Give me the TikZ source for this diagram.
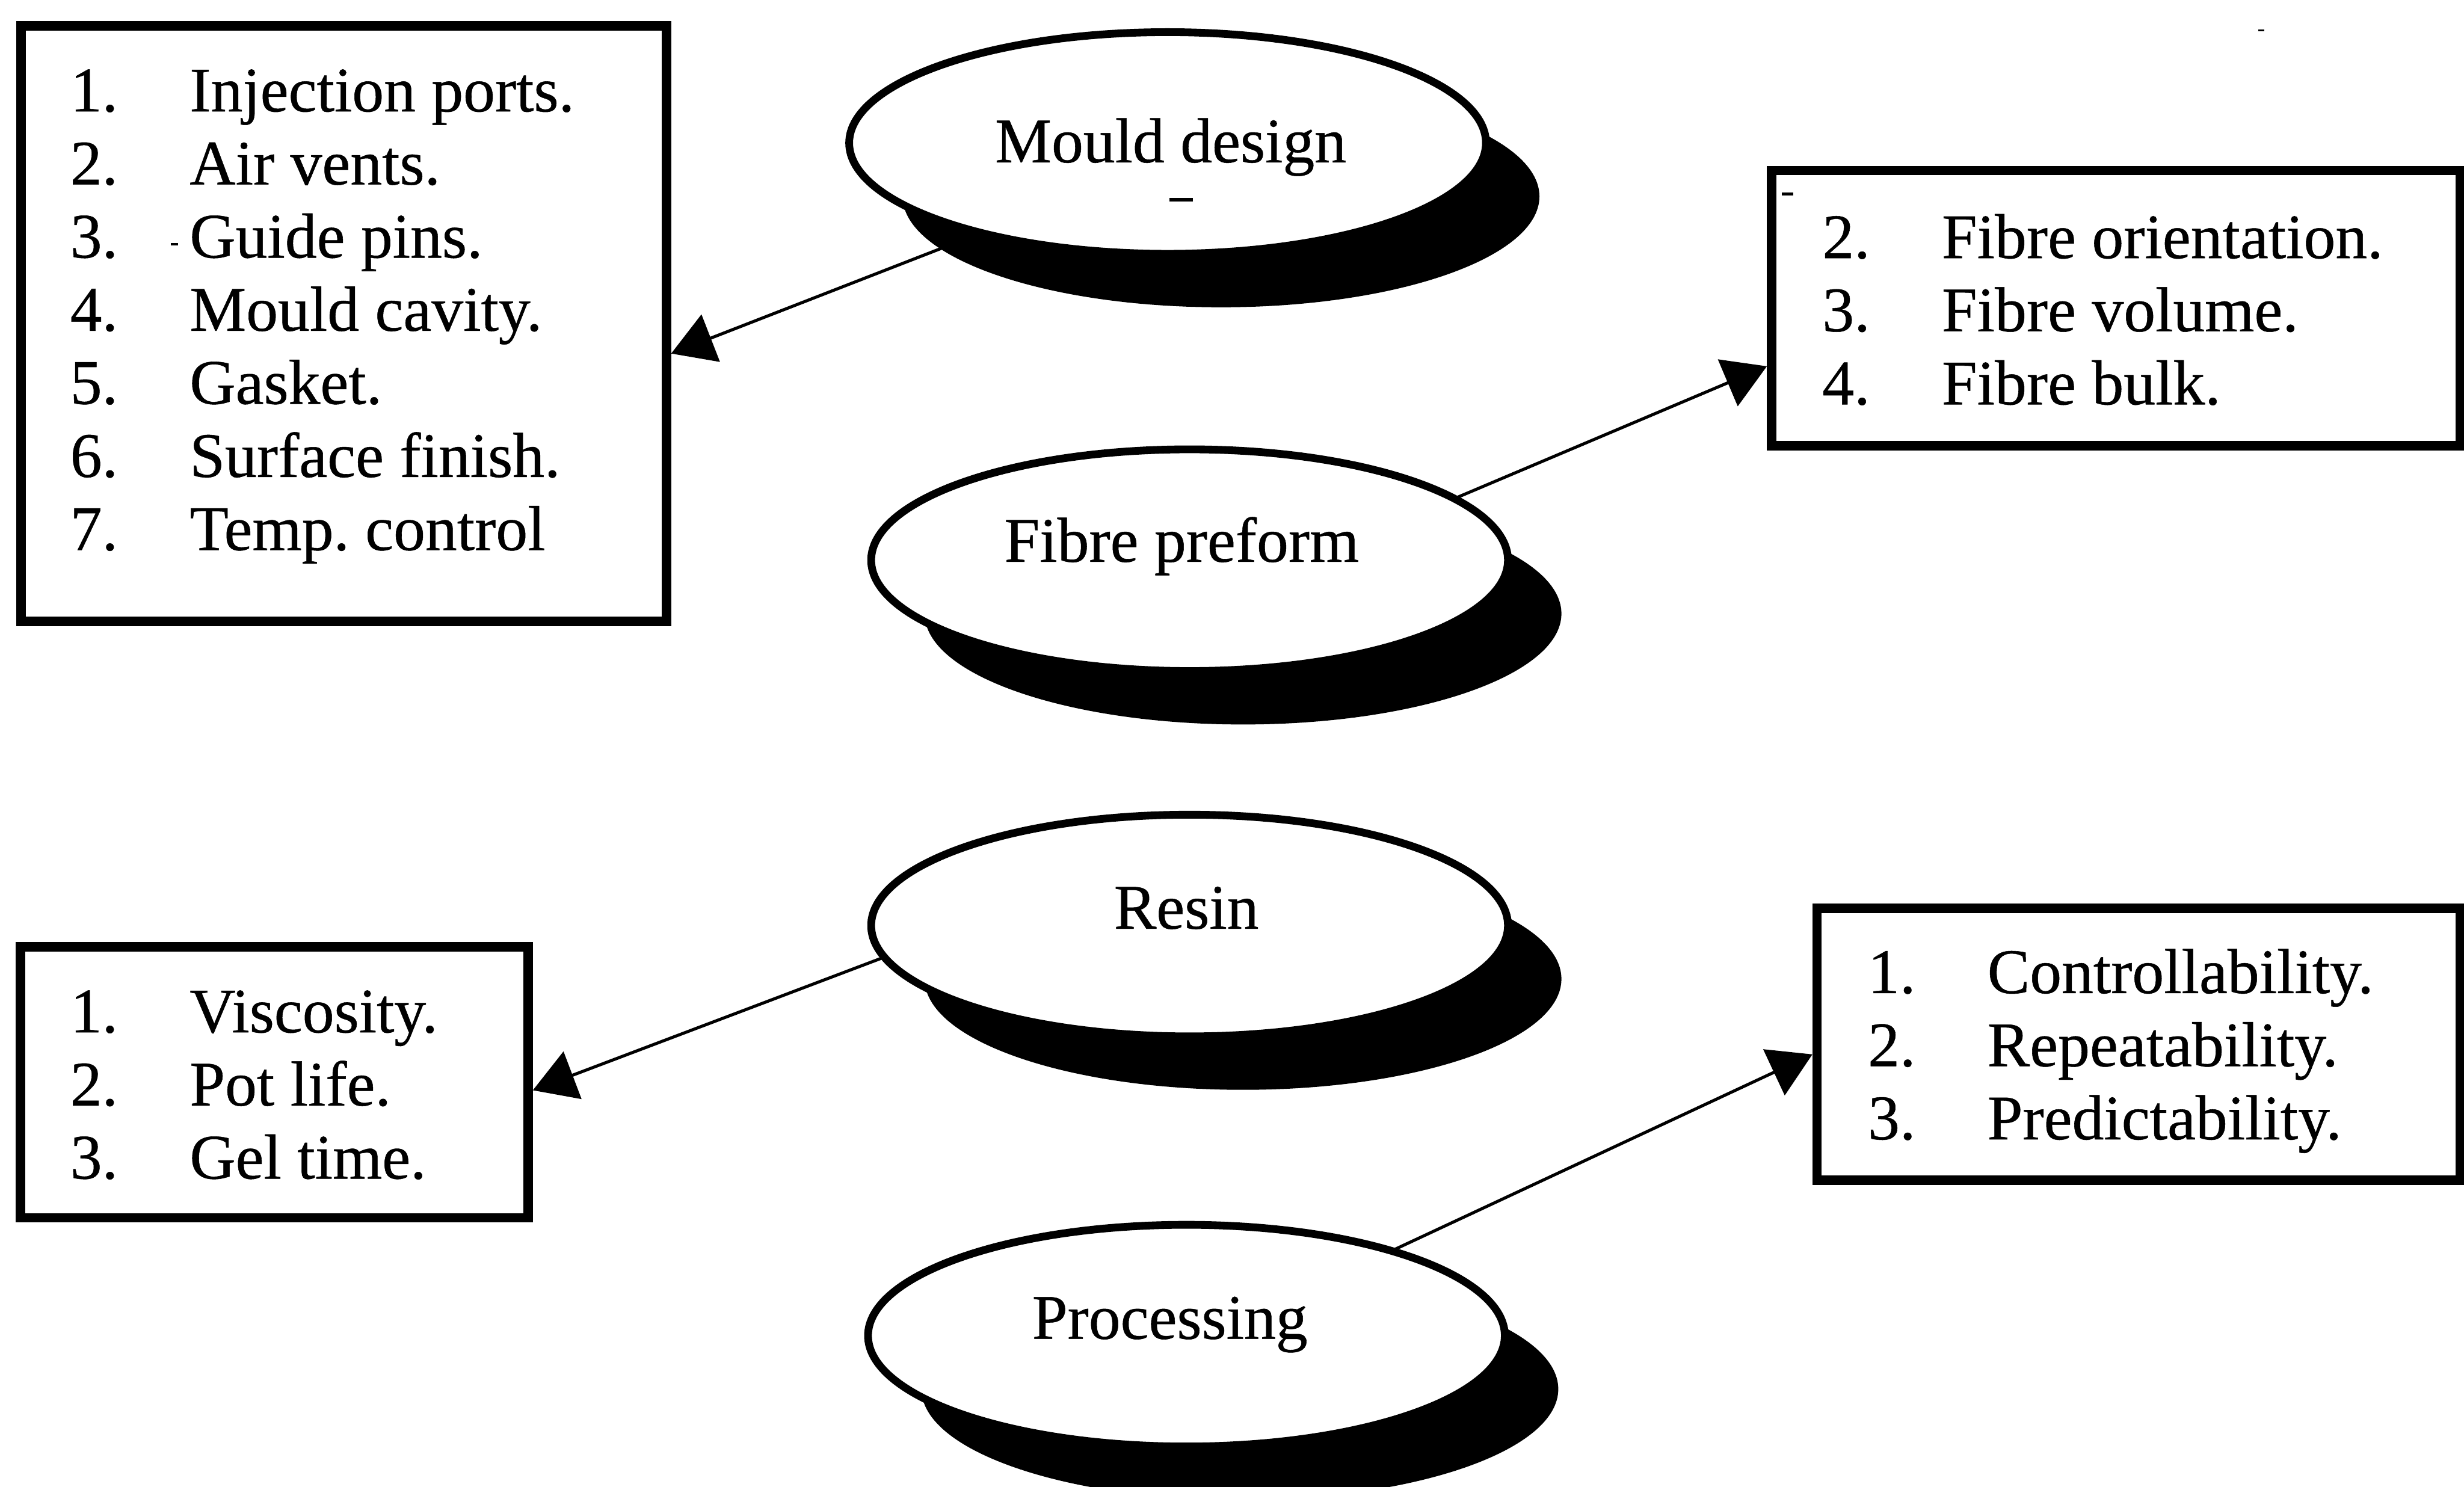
\documentclass[tikz,border=0pt]{standalone}
\usepackage{fontspec}
\setmainfont[FakeBold=0.5]{Liberation Serif}
\usetikzlibrary{arrows.meta,shapes.geometric,shadows,calc,backgrounds}

\tikzset{
  topic/.style={ellipse, draw, fill=white, line width=1.4pt, inner sep=0pt,
    minimum width=4.05cm, minimum height=1.41cm,
    drop shadow={opacity=1, fill=black, shadow xshift=0.34cm, shadow yshift=-0.34cm}},
  topiclabel/.style={anchor=base, inner sep=0pt},
  listbox/.style={draw, rectangle, line width=1.7pt, inner sep=0pt},
  listtext/.style={anchor=base west, inner sep=0pt},
  link/.style={line width=0.55pt, -{Triangle[length=2.7mm, width=3.2mm]}},
  speck/.style={line width=0.6pt},
}

\begin{document}
\frenchspacing
\begin{tikzpicture}[x=0.01cm, y=-0.01cm,
  every node/.append style={font=\fontsize{11.5pt}{13.23pt}\selectfont}]
\useasboundingbox (0,0) rectangle (1568,946);

% list boxes
\node[listbox, minimum width=4.104cm, minimum height=3.788cm] (mbox) at (218.8,206) {};
\node[listbox, minimum width=4.38cm, minimum height=1.75cm] (fbox) at (1346.5,196.1) {};
\node[listbox, minimum width=3.23cm, minimum height=1.723cm] (rbox) at (174.5,688.85) {};
\node[listbox, minimum width=4.091cm, minimum height=1.73cm] (pbox) at (1361,664.5) {};

\node[listtext] (mlist) at (44,70.9) {\begin{tabular}[t]{@{}p{0.76cm}@{}l@{}}
1. & Injection ports.\\
2. & Air vents.\\
3. & Guide pins.\\
4. & Mould cavity.\\
5. & Gasket.\\
6. & Surface finish.\\
7. & Temp. control
\end{tabular}};

\node[listtext] (flist) at (1159,164.3) {\begin{tabular}[t]{@{}p{0.76cm}@{}l@{}}
2. & Fibre orientation.\\
3. & Fibre volume.\\
4. & Fibre bulk.
\end{tabular}};

\node[listtext] (rlist) at (44,657) {\begin{tabular}[t]{@{}p{0.76cm}@{}l@{}}
1. & Viscosity.\\
2. & Pot life.\\
3. & Gel time.
\end{tabular}};

\node[listtext] (plist) at (1188,632) {\begin{tabular}[t]{@{}p{0.76cm}@{}l@{}}
1. & Controllability.\\
2. & Repeatability.\\
3. & Predictability.
\end{tabular}};

% topic ellipses with their shadows
\node[topic] (mould) at (743,91) {};
\node[topic] (fibre) at (757,356.5) {};
\node[topic] (resin) at (757,589) {};
\node[topic] (proc) at (755,850) {};

\node[topiclabel] (mouldtxt) at (745,103.3) {Mould design};
\node[topiclabel] (fibretxt) at (752,357.5) {Fibre preform};
\node[topiclabel] (resintxt) at (755,591) {Resin};
\node[topiclabel] (proctxt) at (744.5,852) {Processing};

% connectors run underneath the ellipses
\begin{scope}[on background layer]
  \fill[white] (0,0) rectangle (1568,946);
  \draw[link] ($(mould.center)+(0,11)$) -- ($(mbox.east)+(0,19)$);
  \draw[link] ($(fibre.center)+(50,11)$) -- ($(fbox.west)+(0,37)$);
  \draw[link] ($(resin.center)+(-157,6)$) -- ($(rbox.east)+(0,5)$);
  \draw[link] ($(proc.center)+(45,-14)$) -- ($(pbox.west)+(0,6.5)$);
\end{scope}

% small specks
\draw[speck, line width=0.7pt] (744,127) -- (759,127);
\draw[speck] (1134,123.4) -- (1141,123.4);
\draw[speck, line width=0.4pt] (108.7,155.4) -- (113.2,155.4);
\draw[speck, line width=0.3pt] (1437,19.2) -- (1441,19.2);
\end{tikzpicture}
\end{document}
